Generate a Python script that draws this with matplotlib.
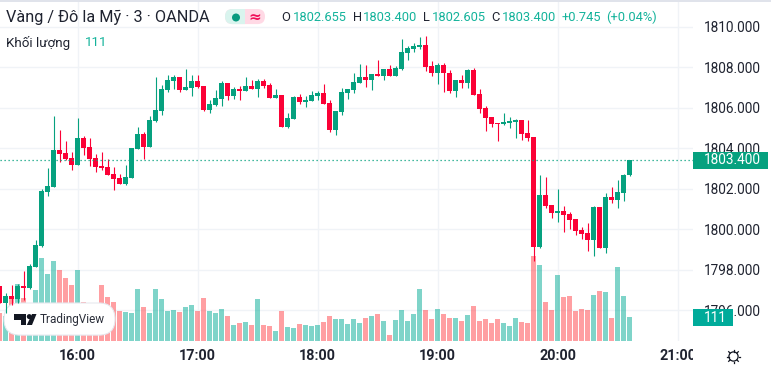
import numpy as np
import matplotlib
matplotlib.use('Agg')
import matplotlib.pyplot as plt
from matplotlib.lines import Line2D
from matplotlib.patches import Circle, FancyBboxPatch, Polygon, Rectangle
from matplotlib.transforms import Affine2D

plt.rcParams['font.family'] = ['Roboto', 'DejaVu Sans']

opens = [1797.19, 1796.35, 1796.70, 1796.55, 1797.19, 1797.09, 1798.12, 1799.16, 1801.83, 1802.07,
         1803.90, 1803.75, 1803.51, 1803.16, 1804.49, 1804.05, 1803.51, 1803.11, 1803.06, 1802.72,
         1802.52, 1802.22, 1802.52, 1803.95, 1804.69, 1804.05, 1805.33, 1805.83, 1806.86, 1807.31,
         1807.51, 1806.86, 1806.96, 1807.31, 1807.06, 1805.88, 1806.12, 1806.42, 1807.21, 1806.57,
         1806.91, 1806.81, 1807.06, 1806.91, 1807.31, 1807.11, 1806.47, 1806.62, 1805.04, 1805.43,
         1806.52, 1806.27, 1806.32, 1806.57, 1806.72, 1806.22, 1804.89, 1805.78, 1806.72, 1806.86,
         1807.21, 1807.51, 1807.36, 1807.65, 1807.56, 1807.90, 1807.56, 1807.90, 1808.69, 1808.89,
         1808.99, 1809.09, 1808.05, 1807.70, 1808.10, 1807.70, 1806.81, 1807.36, 1807.21, 1807.85,
         1806.67, 1805.98, 1805.53, 1805.23, 1805.19, 1805.23, 1805.28, 1805.38, 1804.74, 1804.54,
         1799.11, 1801.68, 1801.19, 1800.79, 1800.89, 1800.74, 1800.49, 1799.95, 1799.80, 1799.46,
         1801.09, 1799.06, 1801.58, 1801.43, 1801.78, 1802.655]
highs = [1797.19, 1796.84, 1797.23, 1797.28, 1797.93, 1798.27, 1799.46, 1801.98, 1803.01, 1805.58,
         1804.89, 1804.35, 1803.80, 1805.48, 1804.59, 1804.49, 1803.70, 1803.80, 1803.46, 1803.06,
         1802.72, 1803.16, 1804.00, 1805.04, 1804.79, 1805.58, 1807.51, 1807.11, 1807.60, 1807.60,
         1807.51, 1807.90, 1807.60, 1807.60, 1807.06, 1806.37, 1806.86, 1807.31, 1807.21, 1807.01,
         1807.06, 1807.51, 1807.36, 1807.41, 1807.41, 1807.21, 1806.91, 1806.62, 1805.73, 1806.57,
         1806.67, 1806.57, 1806.81, 1806.81, 1807.16, 1806.37, 1805.83, 1806.96, 1806.91, 1807.70,
         1808.15, 1808.10, 1807.65, 1808.35, 1807.90, 1808.10, 1808.05, 1809.38, 1809.04, 1809.19,
         1809.48, 1809.53, 1808.30, 1808.20, 1808.20, 1807.85, 1807.36, 1807.60, 1807.90, 1807.95,
         1806.91, 1806.07, 1805.53, 1805.23, 1805.73, 1805.53, 1805.43, 1805.38, 1805.38, 1804.54,
         1802.67, 1802.57, 1801.19, 1801.98, 1801.14, 1800.84, 1800.49, 1800.10, 1800.30, 1801.14,
         1801.09, 1801.78, 1802.07, 1802.42, 1802.72, 1803.40]
lows = [1796.35, 1795.85, 1796.25, 1796.35, 1796.49, 1797.04, 1798.12, 1799.11, 1801.63, 1802.07,
        1803.31, 1803.41, 1802.91, 1803.16, 1803.65, 1803.11, 1802.81, 1802.91, 1802.67, 1801.93,
        1802.22, 1802.17, 1802.52, 1803.95, 1803.46, 1804.05, 1805.28, 1805.63, 1806.77, 1806.91,
        1806.77, 1806.86, 1806.57, 1806.96, 1805.83, 1805.73, 1806.07, 1806.07, 1806.37, 1806.42,
        1806.37, 1806.81, 1806.91, 1806.52, 1806.96, 1806.47, 1806.47, 1805.04, 1804.99, 1805.43,
        1806.17, 1806.02, 1806.32, 1806.37, 1806.17, 1804.79, 1804.64, 1805.63, 1806.42, 1806.72,
        1807.21, 1807.01, 1806.86, 1807.56, 1807.36, 1807.56, 1807.56, 1807.85, 1808.35, 1808.74,
        1808.89, 1807.80, 1807.56, 1807.16, 1806.77, 1806.72, 1806.52, 1806.96, 1806.96, 1806.62,
        1805.73, 1804.84, 1805.04, 1804.35, 1805.14, 1804.99, 1804.49, 1804.40, 1804.35, 1798.42,
        1799.06, 1801.04, 1800.54, 1800.35, 1799.85, 1800.00, 1799.70, 1799.51, 1798.91, 1798.67,
        1799.06, 1798.81, 1801.28, 1801.04, 1801.38, 1802.605]
closes = [1796.35, 1796.70, 1796.55, 1797.19, 1797.09, 1798.17, 1799.21, 1801.88, 1802.12, 1803.90,
          1803.70, 1803.46, 1803.16, 1804.49, 1804.00, 1803.46, 1803.06, 1803.01, 1802.67, 1802.47,
          1802.22, 1802.57, 1804.00, 1804.69, 1804.05, 1805.38, 1805.88, 1806.91, 1807.36, 1807.51,
          1806.86, 1807.01, 1807.31, 1807.01, 1805.88, 1806.17, 1806.47, 1807.21, 1806.57, 1806.91,
          1806.81, 1807.06, 1806.91, 1807.31, 1807.06, 1806.47, 1806.62, 1805.04, 1805.48, 1806.52,
          1806.27, 1806.37, 1806.62, 1806.72, 1806.17, 1804.89, 1805.83, 1806.77, 1806.91, 1807.26,
          1807.51, 1807.36, 1807.65, 1807.56, 1807.90, 1807.56, 1807.95, 1808.74, 1808.94, 1809.04,
          1809.09, 1808.00, 1807.70, 1808.10, 1807.70, 1806.81, 1807.36, 1807.21, 1807.85, 1806.62,
          1805.93, 1805.48, 1805.19, 1805.19, 1805.28, 1805.33, 1805.38, 1804.69, 1804.49, 1799.11,
          1801.68, 1801.14, 1800.79, 1800.89, 1800.69, 1800.44, 1799.90, 1799.75, 1799.46, 1801.09,
          1799.06, 1801.58, 1801.43, 1801.83, 1802.67, 1803.40]
volumes = [130, 116, 199, 264, 199, 162, 236, 384, 310, 370, 328, 291, 259, 328, 180, 171, 171, 259,
           204, 180, 139, 134, 130, 241, 157, 130, 241, 194, 139, 143, 134, 157, 167, 139, 199, 139,
           130, 148, 116, 74, 83, 88, 74, 194, 74, 69, 46, 139, 65, 60, 79, 74, 69, 74, 88, 116,
           102, 102, 79, 102, 83, 106, 116, 125, 93, 28, 97, 143, 93, 125, 241, 143, 102, 148, 125,
           106, 106, 93, 120, 162, 93, 102, 83, 102, 83, 69, 106, 88, 83, 393, 352, 180, 143, 305,
           204, 208, 139, 148, 143, 213, 231, 227, 106, 342, 208, 111]
price_ticks = [1796, 1798, 1800, 1802, 1804, 1806, 1808, 1810]
time_labels = ['16:00', '17:00', '18:00', '19:00', '20:00', '21:00']
time_ticks = [0, 20, 40, 60, 80, 100]  # bars, 3 min each

UP = '#06a17f'
DOWN = '#fb0136'
GRID = '#f0f3f7'
DARK = '#1f2330'
TEAL_TEXT = '#14b39b'

W, H = 771, 365
fig = plt.figure(figsize=(W / 100, H / 100), dpi=100, facecolor='white')
# pixel coordinates measured from the top left
px = Affine2D().scale(1, -1).translate(0, H)

pane = [0, (H - 341) / H, 693 / W, 339 / H]
ax_vol = fig.add_axes(pane, zorder=1)
ax = fig.add_axes(pane, zorder=2)
ax.patch.set_visible(False)

bars = np.arange(len(closes)) - 13
opens = np.array(opens)
closes = np.array(closes)
is_up = closes >= opens
colors = [UP if u else DOWN for u in is_up]

# volume pane shares the whole area
vol_colors = [(0.0, 0.67, 0.58, 0.5) if u else (1.0, 0.25, 0.28, 0.5) for u in is_up]
ax_vol.bar(bars, volumes, width=5 / 6, color=vol_colors, linewidth=0)
ax_vol.set_ylim(0, 1568)

# candles
ax.vlines(bars, lows, highs, colors=colors, linewidth=0.8)
ax.bar(bars, np.maximum(np.abs(closes - opens), 0.05), bottom=np.minimum(opens, closes),
       width=5 / 6, color=colors, linewidth=0)
ax.axhline(closes[-1], color=UP, linewidth=0.9, linestyle=(0, (1, 2.2)))

for a in (ax, ax_vol):
    a.set_xlim(-77.5 / 6, (693 - 77.5) / 6)
    for s in a.spines.values():
        s.set_visible(False)
ax.set_ylim(1794.47, 1811.21)

ax_vol.set_xticks(time_ticks)
ax_vol.set_yticks([])
ax_vol.tick_params(length=0, labelbottom=False)
ax_vol.grid(axis='x', color=GRID, linewidth=1)
ax_vol.set_axisbelow(True)
for p in price_ticks:
    y = (p - 1794.47) / (1811.21 - 1794.47)
    ax_vol.axhline(y * 1568, color=GRID, linewidth=1, zorder=0.5)

ax.set_xticks([])
ax.yaxis.tick_right()
ax.set_yticks(price_ticks)
ax.set_yticklabels([f'{p}.000' for p in price_ticks], fontsize=9.8, color=DARK)
ax.tick_params(axis='y', length=0, pad=8)

# time labels, last one is cut by the price scale
for lbl, t in zip(time_labels, time_ticks):
    txt = ax.text(t, -14.5 / 339, lbl, transform=ax.get_xaxis_transform(), ha='center', va='center',
                  fontsize=10.4, fontweight='bold', color=DARK, clip_on=True)
    txt.set_clip_path(Rectangle((0, 341), 693, 24, transform=px))

# top band
fig.add_artist(Rectangle((0, 0), W, 2, transform=px, color='#e0e3eb', linewidth=0, zorder=5))

# legend
fig.text(6, 17, 'Vàng / Đô la Mỹ · 3 · OANDA', transform=px, fontsize=11.7, color=DARK, va='center', zorder=5)
fig.text(6, 43, 'Khối lượng', transform=px, fontsize=9.6, color=DARK, va='center', zorder=5)
fig.text(85, 43, '111', transform=px, fontsize=9.6, color=TEAL_TEXT, va='center', zorder=5)

legend_bits = [(281, 'O', DARK), (293, '1802.655', TEAL_TEXT), (352.5, 'H', DARK), (363, '1803.400', TEAL_TEXT),
               (423, 'L', DARK), (432, '1802.605', TEAL_TEXT), (491.5, 'C', DARK), (502, '1803.400', TEAL_TEXT),
               (562, '+0.745', TEAL_TEXT), (606, '(+0.04%)', TEAL_TEXT)]
for x, s, c in legend_bits:
    fig.text(x, 17.5, s, transform=px, fontsize=9.3, color=c, va='center', zorder=5)

# market status pill
pink = FancyBboxPatch((225 + 7.5, 9 + 7.5), 25, 0.1, boxstyle='round,pad=7.5', transform=px,
                      facecolor='#ffd9e5', linewidth=0, zorder=5)
mint = FancyBboxPatch((225 + 7.5, 9 + 7.5), 25, 0.1, boxstyle='round,pad=7.5', transform=px,
                      facecolor='#d9f4ee', linewidth=0, zorder=5.1)
fig.add_artist(pink)
fig.add_artist(mint)
mint.set_clip_path(Rectangle((225, 0), 20, 40, transform=px))
fig.add_artist(Circle((236, 17.5), 4, transform=px, color='#089a7f', linewidth=0, zorder=5.2))
fig.text(254.5, 17, '≈', transform=px, fontsize=11, fontweight='bold', color='#f0105a',
         family=['DejaVu Sans'], ha='center', va='center', zorder=5.2)

# watermark between volume and candles
fig.add_artist(FancyBboxPatch((4 + 16, 303 + 16), 79, 0.1, boxstyle='round,pad=16', transform=px,
                              facecolor='white', edgecolor='#e6e8ee', linewidth=0.8, zorder=1.5))
fig.add_artist(Polygon([(14, 314), (26, 314), (26, 325), (20.5, 325), (20.5, 319.5), (14, 319.5)], transform=px,
                       color='#131722', linewidth=0, zorder=1.6))
fig.add_artist(Circle((29.3, 316.6), 2.5, transform=px, color='#131722', linewidth=0, zorder=1.6))
fig.add_artist(Polygon([(32, 314), (36.5, 314), (32, 325), (26.8, 325)], transform=px,
                       color='#131722', linewidth=0, zorder=1.6))
fig.text(40, 319.5, 'TradingView', transform=px, fontsize=8.5, color='#2a2e39', va='center', zorder=1.6)

# price scale tags
y_last = H - ax.transData.transform((0, closes[-1]))[1]
fig.add_artist(Rectangle((693, y_last - 8.5), 75, 17, transform=px, color=UP, linewidth=0, zorder=5))
fig.text(704, y_last, f'{closes[-1]:.3f}', transform=px, fontsize=9.8, color='white', va='center', zorder=6)
y_vol = H - ax_vol.transData.transform((0, volumes[-1]))[1]
fig.add_artist(Rectangle((693, y_vol - 8), 40, 17, transform=px, color='#00ab9a', linewidth=0, zorder=5))
fig.text(704, y_vol + 0.5, str(volumes[-1]), transform=px, fontsize=9.8, color='white', va='center', zorder=6)

# theme icon in the corner
fig.add_artist(Circle((733.5, 356.5), 4.6, transform=px, facecolor='white', edgecolor='#131722',
                      linewidth=0.9, zorder=5))
for a in np.arange(8) * np.pi / 4:
    fig.add_artist(Line2D([733.5 + 5 * np.cos(a), 733.5 + 6.8 * np.cos(a)],
                          [356.5 + 5 * np.sin(a), 356.5 + 6.8 * np.sin(a)],
                          transform=px, color='#131722', linewidth=0.9, zorder=5))

fig.savefig('out.png', dpi=100)
